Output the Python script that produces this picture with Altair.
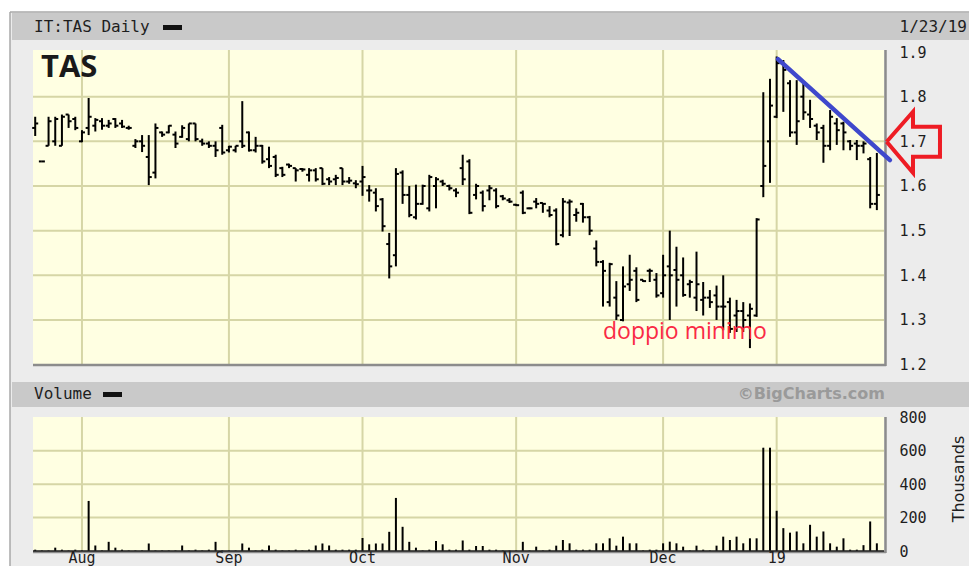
import altair as alt
import pandas as pd

# ---------------- data ----------------
highs = [1.755, 1.655, 1.755, 1.755, 1.76, 1.76, 1.755, 1.725, 1.797, 1.752,
         1.752, 1.748, 1.752, 1.748, 1.735, 1.705, 1.714, 1.714, 1.74, 1.722,
         1.736, 1.722, 1.736, 1.74, 1.74, 1.706, 1.70, 1.70, 1.737, 1.69,
         1.69, 1.79, 1.722, 1.71, 1.692, 1.688, 1.67, 1.643, 1.65, 1.64,
         1.64, 1.64, 1.64, 1.64, 1.62, 1.625, 1.64, 1.62, 1.613, 1.645,
         1.602, 1.595, 1.573, 1.495, 1.64, 1.635, 1.60, 1.603, 1.603, 1.625,
         1.62, 1.614, 1.603, 1.595, 1.67, 1.66, 1.605, 1.59, 1.602, 1.595,
         1.58, 1.573, 1.56, 1.59, 1.552, 1.573, 1.562, 1.555, 1.55, 1.573,
         1.57, 1.55, 1.562, 1.533, 1.478, 1.434, 1.428, 1.387, 1.42, 1.446,
         1.418, 1.39, 1.415, 1.405, 1.446, 1.50, 1.464, 1.44, 1.39, 1.453,
         1.385, 1.367, 1.377, 1.40, 1.35, 1.345, 1.34, 1.337, 1.528, 1.81,
         1.84, 1.89, 1.882, 1.837, 1.837, 1.83, 1.793, 1.74, 1.737, 1.77,
         1.752, 1.744, 1.703, 1.703, 1.70, 1.665, 1.674]
lows = [1.712, 1.655, 1.69, 1.69, 1.69, 1.73, 1.725, 1.698, 1.714, 1.722,
        1.726, 1.73, 1.73, 1.73, 1.726, 1.685, 1.676, 1.602, 1.617, 1.71,
        1.718, 1.685, 1.708, 1.70, 1.70, 1.69, 1.685, 1.665, 1.67, 1.675,
        1.675, 1.685, 1.677, 1.675, 1.65, 1.64, 1.62, 1.62, 1.64, 1.61,
        1.632, 1.61, 1.61, 1.602, 1.602, 1.602, 1.602, 1.605, 1.595, 1.578,
        1.565, 1.543, 1.498, 1.393, 1.42, 1.56, 1.53, 1.525, 1.558, 1.543,
        1.55, 1.60, 1.59, 1.575, 1.602, 1.537, 1.57, 1.543, 1.568, 1.55,
        1.568, 1.562, 1.555, 1.537, 1.548, 1.55, 1.54, 1.53, 1.467, 1.485,
        1.488, 1.52, 1.518, 1.49, 1.42, 1.33, 1.33, 1.30, 1.297, 1.365,
        1.34, 1.385, 1.385, 1.35, 1.35, 1.30, 1.33, 1.352, 1.35, 1.32,
        1.31, 1.327, 1.30, 1.277, 1.271, 1.273, 1.273, 1.237, 1.307, 1.575,
        1.607, 1.752, 1.766, 1.71, 1.692, 1.748, 1.73, 1.703, 1.652, 1.68,
        1.692, 1.68, 1.68, 1.658, 1.673, 1.55, 1.546]
opens = [1.73, 1.655, 1.69, 1.70, 1.69, 1.76, 1.75, 1.70, 1.73, 1.735,
         1.745, 1.735, 1.75, 1.74, 1.73, 1.69, 1.70, 1.665, 1.63, 1.72,
         1.72, 1.715, 1.71, 1.705, 1.74, 1.70, 1.695, 1.69, 1.73, 1.68,
         1.68, 1.70, 1.72, 1.68, 1.69, 1.66, 1.665, 1.64, 1.648, 1.64,
         1.638, 1.625, 1.635, 1.64, 1.615, 1.615, 1.64, 1.61, 1.606, 1.61,
         1.59, 1.585, 1.57, 1.47, 1.445, 1.63, 1.58, 1.53, 1.56, 1.55,
         1.60, 1.61, 1.60, 1.59, 1.64, 1.655, 1.58, 1.585, 1.59, 1.59,
         1.577, 1.568, 1.558, 1.585, 1.55, 1.565, 1.562, 1.545, 1.545, 1.49,
         1.563, 1.535, 1.56, 1.53, 1.46, 1.43, 1.34, 1.35, 1.30, 1.38,
         1.41, 1.39, 1.41, 1.39, 1.36, 1.42, 1.412, 1.40, 1.38, 1.35,
         1.345, 1.35, 1.355, 1.33, 1.34, 1.31, 1.32, 1.31, 1.31, 1.60,
         1.70, 1.755, 1.875, 1.83, 1.72, 1.80, 1.76, 1.735, 1.73, 1.69,
         1.74, 1.74, 1.70, 1.695, 1.69, 1.66, 1.56]
closes = [1.74, 1.655, 1.745, 1.75, 1.755, 1.745, 1.73, 1.72, 1.755, 1.748,
          1.735, 1.74, 1.735, 1.733, 1.73, 1.70, 1.69, 1.62, 1.73, 1.715,
          1.735, 1.695, 1.73, 1.74, 1.705, 1.695, 1.69, 1.68, 1.675, 1.688,
          1.69, 1.69, 1.68, 1.69, 1.655, 1.645, 1.625, 1.625, 1.645, 1.635,
          1.637, 1.635, 1.615, 1.605, 1.61, 1.618, 1.61, 1.612, 1.604, 1.62,
          1.59, 1.555, 1.51, 1.42, 1.627, 1.58, 1.535, 1.56, 1.60, 1.62,
          1.615, 1.605, 1.595, 1.585, 1.615, 1.54, 1.60, 1.555, 1.595, 1.555,
          1.572, 1.565, 1.557, 1.54, 1.55, 1.56, 1.56, 1.535, 1.47, 1.565,
          1.565, 1.54, 1.53, 1.50, 1.43, 1.41, 1.425, 1.31, 1.375, 1.39,
          1.345, 1.387, 1.41, 1.355, 1.40, 1.40, 1.39, 1.356, 1.385, 1.38,
          1.35, 1.34, 1.33, 1.33, 1.28, 1.32, 1.30, 1.325, 1.525, 1.645,
          1.78, 1.875, 1.86, 1.72, 1.745, 1.765, 1.75, 1.72, 1.69, 1.755,
          1.725, 1.72, 1.69, 1.69, 1.695, 1.56, 1.58]
volumes = [8, 3, 3, 20, 8, 3, 8, 3, 300, 33,
           3, 55, 20, 8, 3, 3, 3, 45, 3, 3,
           3, 3, 33, 3, 8, 3, 8, 55, 3, 3,
           3, 45, 20, 3, 8, 33, 8, 3, 3, 8,
           3, 8, 33, 45, 33, 8, 8, 8, 8, 78,
           40, 45, 45, 115, 318, 145, 55, 20, 3, 8,
           60, 40, 8, 8, 63, 8, 30, 30, 8, 8,
           3, 3, 3, 55, 3, 26, 3, 8, 32, 66,
           46, 8, 8, 8, 46, 46, 76, 32, 86, 46,
           46, 3, 8, 8, 46, 56, 46, 26, 3, 32,
           8, 3, 32, 86, 66, 86, 46, 76, 76, 619,
           619, 241, 137, 110, 117, 46, 157, 86, 117, 46,
           26, 76, 8, 8, 35, 177, 46]

month_index = [7, 29, 49, 72, 94, 111]
month_labels = ["Aug", "Sep", "Oct", "Nov", "Dec", "19"]
price_ticks = [1.2, 1.3, 1.4, 1.5, 1.6, 1.7, 1.8, 1.9]
price_grid = [1.3, 1.4, 1.5, 1.6, 1.7, 1.8]
volume_ticks = [0, 200, 400, 600, 800]
volume_grid = [200, 400, 600]

trend_i = [111.2, 127.96]
trend_p = [1.884, 1.658]
arrow_i = [127.47, 131.41, 131.41, 135.45, 135.45, 131.41, 131.41, 127.47]
arrow_p = [1.6991, 1.7663, 1.7327, 1.7327, 1.6656, 1.6656, 1.6297, 1.6991]

# ---------------- frames ----------------
n = len(highs)
df = pd.DataFrame({"i": list(range(n)), "o": opens, "h": highs, "l": lows,
                   "c": closes, "v": volumes})
df["il"] = df["i"] - 0.45
df["ir"] = df["i"] + 0.45
df["zero"] = 0

W, H = 851, 501
XDOM = [-0.33, 127.07]
PDOM = [0.7827, 1.9045]
VDOM = [0, 3002]

MONO = "DejaVu Sans Mono"
GRID = "#d6d6a6"
one = pd.DataFrame({"k": [0]})

xs = alt.Scale(domain=XDOM, nice=False, zero=False)
ps = alt.Scale(domain=PDOM, nice=False, zero=False)
vs = alt.Scale(domain=VDOM, nice=False, zero=False)


def X(f):
    return alt.X(f, type="quantitative", scale=xs, axis=None)


def P(f, axis=None):
    return alt.Y(f, type="quantitative", scale=ps, axis=axis)


def V(f, axis=None):
    return alt.Y(f, type="quantitative", scale=vs, axis=axis)


def box(x, x2, y, y2, color):
    return alt.Chart(one).mark_rect(color=color).encode(
        x=alt.value(x), x2=alt.value(x2), y=alt.value(y), y2=alt.value(y2))


def vrule(x, y, y2, color, w):
    return alt.Chart(one).mark_rule(color=color, strokeWidth=w).encode(
        x=alt.value(x), y=alt.value(y), y2=alt.value(y2))


def hrule(x, x2, y, color, w):
    return alt.Chart(one).mark_rule(color=color, strokeWidth=w).encode(
        x=alt.value(x), x2=alt.value(x2), y=alt.value(y))


def label(text, x, y, size, align="left", font=MONO, weight="normal",
          color="#1e1e1e", angle=0):
    return alt.Chart(one).mark_text(
        text=text, align=align, baseline="middle", font=font, fontSize=size,
        fontWeight=weight, color=color, angle=angle).encode(
        x=alt.value(x), y=alt.value(y))


layers = []
# page background and frame
layers.append(box(-23, 936, -38, 516, "#ececec"))
layers.append(vrule(-23, -38, 516, "#a8a8a8", 1.5))
layers.append(hrule(-23, 936, -38, "#a8a8a8", 1.5))
# header bars
layers.append(box(-21, 936, -37, -10, "#c9c9c9"))
layers.append(box(-21, 936, 332, 357, "#c9c9c9"))
# plot panels
layers.append(box(0, W, 0, 314, "#ffffe2"))
layers.append(box(0, W, 367, H, "#ffffe2"))

# grid lines
pg = pd.DataFrame({"p": price_grid})
layers.append(alt.Chart(pg).mark_rule(color=GRID, strokeWidth=2).encode(
    y=P("p"), x=alt.value(0), x2=alt.value(W)))
vg = pd.DataFrame({"v": volume_grid})
layers.append(alt.Chart(vg).mark_rule(color=GRID, strokeWidth=2).encode(
    y=V("v"), x=alt.value(0), x2=alt.value(W)))
mg = pd.DataFrame({"m": month_index, "lab": month_labels})
layers.append(alt.Chart(mg).mark_rule(color=GRID, strokeWidth=2).encode(
    x=X("m"), y=alt.value(0), y2=alt.value(314)))
layers.append(alt.Chart(mg).mark_rule(color=GRID, strokeWidth=2).encode(
    x=X("m"), y=alt.value(367), y2=alt.value(H)))

# panel shadows
layers.append(hrule(0, 853, 315, "#8c8c8c", 2.5))
layers.append(vrule(852.5, 0, 316, "#8c8c8c", 2.5))
layers.append(hrule(0, 853, 502, "#8c8c8c", 2.5))
layers.append(vrule(852.5, 367, 503, "#8c8c8c", 2.5))

# OHLC bars
price_axis = alt.Axis(values=price_ticks, orient="right", format=".1f",
                      grid=False, ticks=False, domain=False, title=None,
                      labelFont=MONO, labelFontSize=15, labelColor="#1e1e1e",
                      labelAlign="left", labelPadding=15, zindex=2)
layers.append(alt.Chart(df).mark_rule(color="black", strokeWidth=2).encode(
    x=X("i"), y=P("l", price_axis), y2="h"))
layers.append(alt.Chart(df).mark_rule(color="black", strokeWidth=2).encode(
    x=X("il"), x2="i", y=P("o")))
layers.append(alt.Chart(df).mark_rule(color="black", strokeWidth=2).encode(
    x=X("i"), x2="ir", y=P("c")))

# volume
vol_axis = alt.Axis(values=volume_ticks, orient="right", grid=False,
                    ticks=False, domain=False, title=None, labelFont=MONO,
                    labelFontSize=15, labelColor="#1e1e1e", labelAlign="left",
                    labelPadding=15, zindex=2)
layers.append(alt.Chart(df).mark_rule(color="black", strokeWidth=2).encode(
    x=X("i"), y=V("zero", vol_axis), y2="v"))
layers.append(alt.Chart(df.head(1)).mark_rule(color="#222222", strokeWidth=1.5).encode(
    y=V("zero"), x=alt.value(0), x2=alt.value(W)))

# month labels under the volume panel
layers.append(alt.Chart(mg).mark_text(
    font=MONO, fontSize=15, color="#1e1e1e", align="center",
    baseline="alphabetic").encode(
    x=X("m"), y=alt.value(513), text="lab:N"))

# annotations drawn on the picture
tr = pd.DataFrame({"i": trend_i, "p": trend_p})
layers.append(alt.Chart(tr).mark_line(color="#3f48cc", strokeWidth=4.5,
                                      strokeCap="round", clip=False).encode(
    x=X("i"), y=P("p")))
ar = pd.DataFrame({"i": arrow_i, "p": arrow_p, "s": list(range(len(arrow_i)))})
layers.append(alt.Chart(ar).mark_line(color="#ee1c24", strokeWidth=4,
                                      strokeJoin="miter", clip=False).encode(
    x=X("i"), y=P("p"), order="s:Q"))

# texts
layers.append(label("IT:TAS Daily", 1, -23, 16))
layers.append(box(130, 149, -25, -20, "#111111"))
layers.append(label("1/23/19", 934, -23, 16, align="right"))
layers.append(label("Volume", 1, 344, 16))
layers.append(box(70, 89, 342, 347, "#111111"))
layers.append(label("©BigCharts.com", 852, 344, 16, align="right",
                    font="DejaVu Sans", weight="bold", color="#9a9a9a"))
layers.append(label("Thousands", 926, 429, 16, align="center",
                    font="DejaVu Sans", angle=270))
layers.append(label("TAS", 8, 18, 31, font="Open Sans", weight="bold",
                    color="#1a1a1a"))
layers.append(label("doppio minimo", 570, 282, 23, font="Open Sans",
                    color="#fa2a45"))

chart = alt.layer(*layers).resolve_scale(y="independent").properties(
    width=W, height=H,
    autosize=alt.AutoSizeParams(type="none"),
    padding={"left": 25, "top": 42, "right": 85, "bottom": 15},
    background="white",
).configure_view(stroke=None)

chart.save("out.html", embed_options={"renderer": "svg", "actions": False})
